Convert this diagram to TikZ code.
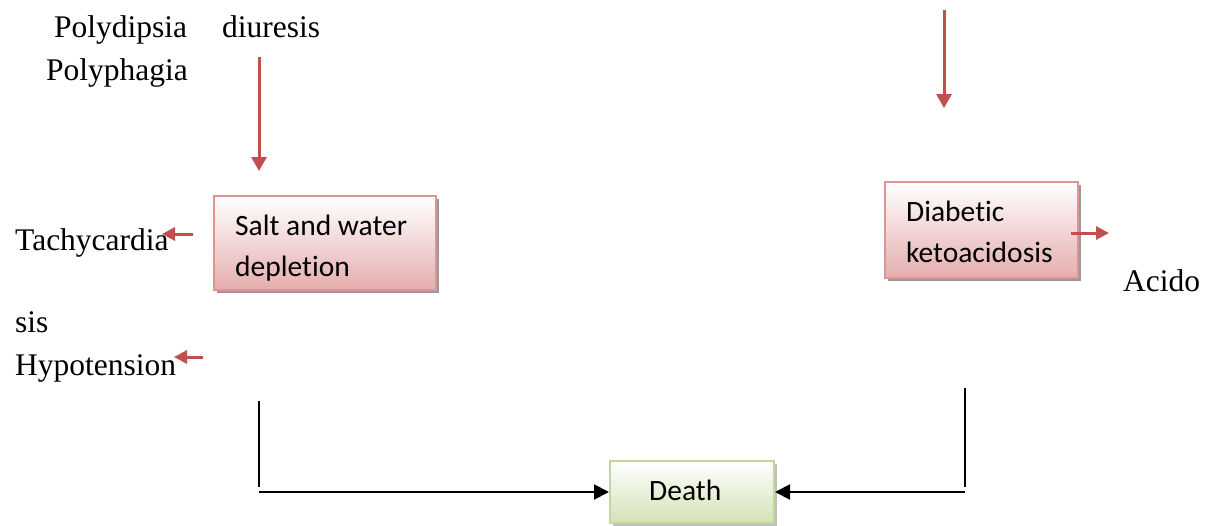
\documentclass[tikz,border=0pt]{standalone}
\usepackage{fontspec}
\setmainfont{Liberation Serif}
\newfontfamily\boxfont[Ligatures=NoCommon]{Carlito}
\usetikzlibrary{arrows.meta,shadows}
\definecolor{arrowred}{HTML}{C0504D}
\definecolor{pinkedge}{HTML}{D99694}
\definecolor{pinkfill}{HTML}{E5ADAD}
\definecolor{greenedge}{HTML}{C3D69B}
\definecolor{greenfill}{HTML}{D3E2B6}
\tikzset{
  label text/.style={anchor=base west,inner sep=0pt,font=\fontsize{31.5}{36}\selectfont},
  box text/.style={anchor=base west,inner sep=0pt,align=flush left,
    font=\boxfont\fontsize{29.5}{41}\selectfont},
  redbox/.style={draw=pinkedge,line width=2pt,top color=white,bottom color=pinkfill,
    drop shadow={shadow xshift=3pt,shadow yshift=-3pt,fill=black!40,opacity=1}},
  greenbox/.style={draw=greenedge,line width=2pt,top color=white,bottom color=greenfill,
    drop shadow={shadow xshift=3pt,shadow yshift=-3pt,fill=black!25,opacity=1}},
  redarrow/.style={draw=arrowred,line width=3pt,-{Triangle[length=14pt,width=15pt]}},
  blackarrow/.style={draw=black,line width=2pt,-{Triangle[length=15pt,width=15pt]}},
  blackline/.style={draw=black,line width=2pt}
}
\begin{document}
\begin{tikzpicture}[x=1pt,y=-1pt]
\useasboundingbox (0,0) rectangle (1207,525);

% free-standing labels
\node[label text] (polydipsia) at (54,37) {Polydipsia};
\node[label text] (diuresis) at (222,37) {diuresis};
\node[label text] (polyphagia) at (46,80) {Polyphagia};
\node[label text] (tachy) at (15,250) {Tachycardia};
\node[label text] (sis) at (15,332) {sis};
\node[label text] (hypo) at (15,375) {Hypotension};
\node[label text] (acido) at (1123,291) {Acido};

% boxes (text anchored on the baseline of its last line)
\node[redbox,minimum width=222pt,minimum height=94pt] (salt) at (325,243) {};
\node[box text] (salttext) at ([shift={(22,81)}]salt.north west) {Salt and water\\depletion};
\node[redbox,minimum width=193pt,minimum height=96pt] (dka) at (981.5,230) {};
\node[box text] (dkatext) at ([shift={(22,81)}]dka.north west) {Diabetic\\ketoacidosis};
\node[greenbox,minimum width=164pt,minimum height=62pt] (death) at (692,492) {};
\node[box text] (deathtext) at ([shift={(40,40)}]death.north west) {Death};

% red arrows
\coordinate (a1s) at (259,57);
\coordinate (a1e) at (259,171);
\draw[redarrow] (a1s) -- (a1e);
\coordinate (a2s) at (944,10);
\coordinate (a2e) at (944,108);
\draw[redarrow] (a2s) -- (a2e);
\coordinate (t1s) at (193,234);
\coordinate (t1e) at (162,234);
\draw[redarrow,-{Triangle[length=13pt,width=13pt]}] (t1s) -- (t1e);
\coordinate (h1s) at (203,357);
\coordinate (h1e) at (174,357);
\draw[redarrow,-{Triangle[length=13pt,width=13pt]}] (h1s) -- (h1e);
\coordinate (k1e) at (1109,233);
\draw[redarrow,-{Triangle[length=13pt,width=13pt]}] (dka.east |- k1e) ++(-8,0) -- (k1e);

% black connectors into the Death box
\coordinate (l1) at (259,401);
\coordinate (l2) at (259,487);
\coordinate (l3) at (259,492);
\draw[blackline] (l1) -- (l2);
\draw[blackarrow] (l3) -- (l3 -| death.west);
\coordinate (r1) at (965,388);
\coordinate (r2) at (965,487);
\coordinate (r3) at (965,492);
\draw[blackline] (r1) -- (r2);
\draw[blackarrow] (r3) -- (r3 -| death.east);
\end{tikzpicture}
\end{document}
